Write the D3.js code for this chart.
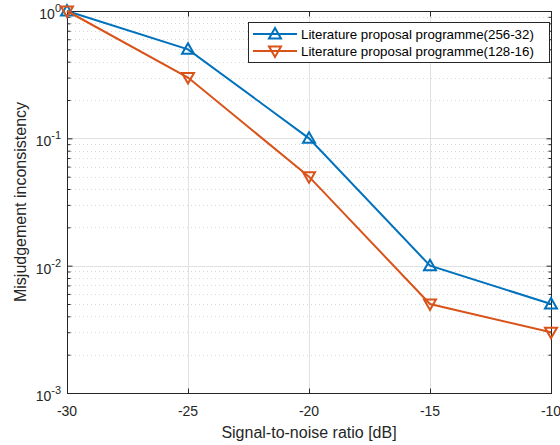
<!DOCTYPE html>
<html><head><meta charset="utf-8">
<script src="https://cdn.jsdelivr.net/npm/d3@7"></script>
<style>body{margin:0;background:#fff}svg{display:block}text{font-family:"Liberation Sans",Arial,sans-serif}</style>
</head><body>
<svg id="c" width="560" height="445"></svg>
<script>
const snr = [-30, -25, -20, -15, -10];
const series1 = [1, 0.5, 0.1, 0.01, 0.005];
const series2 = [1, 0.3, 0.05, 0.005, 0.003];
const seriesNames = ["Literature proposal programme(256-32)", "Literature proposal programme(128-16)"];
const xTicks = [-30, -25, -20, -15, -10];
const yTickExps = [0, -1, -2, -3];

const svg = d3.select("#c");
const L = 67, R = 551, T = 11, B = 393;
const x = d3.scaleLinear().domain([-30, -10]).range([L, R]);
const y = d3.scaleLog().domain([1e-3, 1]).range([B, T]);
const blue = "#0072BD", orange = "#D95319";

// minor grid
const minors = [];
for (let e = -3; e < 0; e++) for (let k = 2; k <= 9; k++) minors.push(k * Math.pow(10, e));
const g = svg.append("g");
g.selectAll(".mg").data(minors).enter().append("line")
  .attr("x1", L).attr("x2", R).attr("y1", d => Math.round(y(d)) + 0.5).attr("y2", d => Math.round(y(d)) + 0.5)
  .attr("stroke", "#d6d6d6").attr("stroke-width", 1).attr("stroke-dasharray", "1,3");
// major grid
g.selectAll(".yg").data(yTickExps.map(e => Math.pow(10, e))).enter().append("line")
  .attr("x1", L).attr("x2", R).attr("y1", d => Math.round(y(d)) + 0.5).attr("y2", d => Math.round(y(d)) + 0.5)
  .attr("stroke", "#e1e1e1");
g.selectAll(".xg").data(xTicks).enter().append("line")
  .attr("y1", T).attr("y2", B).attr("x1", d => Math.round(x(d)) + 0.5).attr("x2", d => Math.round(x(d)) + 0.5)
  .attr("stroke", "#e1e1e1");

// axes via d3
const axB = d3.axisBottom(x).tickValues(xTicks).tickSize(-5).tickFormat(() => "");
const axT = d3.axisTop(x).tickValues(xTicks).tickSize(-5).tickFormat(() => "");
const axLmaj = d3.axisLeft(y).tickValues(yTickExps.map(e => Math.pow(10, e))).tickSize(-5).tickFormat(() => "");
const axLmin = d3.axisLeft(y).tickValues(minors).tickSize(-3).tickFormat(() => "");
const axRmaj = d3.axisRight(y).tickValues(yTickExps.map(e => Math.pow(10, e))).tickSize(-5).tickFormat(() => "");
const axRmin = d3.axisRight(y).tickValues(minors).tickSize(-3).tickFormat(() => "");
[[axB, `translate(0,${B + 0.5})`], [axT, `translate(0,${T + 0.5})`], [axLmaj, `translate(${L + 0.5},0)`],
 [axLmin, `translate(${L + 0.5},0)`], [axRmaj, `translate(${R + 0.5},0)`], [axRmin, `translate(${R + 0.5},0)`]].forEach(([a, t]) => {
  const gg = svg.append("g").attr("transform", t).call(a);
  gg.selectAll("path,line").attr("stroke", "#262626").attr("stroke-width", 1);
  gg.select(".domain").attr("d", null);
});
// box
svg.append("rect").attr("x", L + 0.5).attr("y", T + 0.5).attr("width", R - L).attr("height", B - T)
  .attr("fill", "none").attr("stroke", "#262626").attr("stroke-width", 1);

// x tick labels
svg.selectAll(".xl").data(xTicks).enter().append("text")
  .attr("x", d => x(d)).attr("y", 416).attr("text-anchor", "middle")
  .attr("font-size", 14).attr("fill", "#262626").text(d => d);
// y tick labels
yTickExps.forEach(e => {
  const t = svg.append("text").attr("x", 61).attr("y", y(Math.pow(10, e)) + 8).attr("text-anchor", "end")
    .attr("font-size", 14).attr("fill", "#262626");
  t.append("tspan").text("10");
  t.append("tspan").attr("dy", -7).attr("font-size", 11).text(e);
});
// axis labels
svg.append("text").attr("x", (L + R) / 2).attr("y", 438).attr("text-anchor", "middle")
  .attr("font-size", 16).attr("fill", "#262626").text("Signal-to-noise ratio [dB]");
svg.append("text").attr("transform", `translate(26,${(T + B) / 2}) rotate(-90)`).attr("text-anchor", "middle")
  .attr("font-size", 16).attr("fill", "#262626").text("Misjudgement inconsistency");

// lines
const line = d3.line().x(d => x(d[0])).y(d => y(d[1]));
const tri = (cx, cy, up) => {
  const s = 6;
  return up ? `M${cx},${cy - s}L${cx + s},${cy + s * 0.75}L${cx - s},${cy + s * 0.75}Z`
            : `M${cx},${cy + s}L${cx + s},${cy - s * 0.75}L${cx - s},${cy - s * 0.75}Z`;
};
[[series1, blue, true], [series2, orange, false]].forEach(([s, c, up]) => {
  const pts = snr.map((v, i) => [v, s[i]]);
  svg.append("path").attr("d", line(pts)).attr("fill", "none").attr("stroke", c).attr("stroke-width", 2);
  svg.selectAll(null).data(pts).enter().append("path")
    .attr("d", d => tri(x(d[0]), y(d[1]), up)).attr("fill", "none").attr("stroke", c).attr("stroke-width", 2);
});

// legend
const lg = svg.append("g");
lg.append("rect").attr("x", 248.5).attr("y", 22.5).attr("width", 301).attr("height", 40)
  .attr("fill", "#fff").attr("stroke", "#262626").attr("stroke-width", 1);
seriesNames.forEach((n, i) => {
  const yy = 34 + i * 17;
  const c = i === 0 ? blue : orange;
  lg.append("line").attr("x1", 253).attr("x2", 297).attr("y1", yy).attr("y2", yy).attr("stroke", c).attr("stroke-width", 2);
  lg.append("path").attr("d", tri(275, yy, i === 0)).attr("fill", "none").attr("stroke", c).attr("stroke-width", 2);
  lg.append("text").attr("x", 301).attr("y", yy + 5).attr("font-size", 13.3).attr("fill", "#000").text(n);
});
</script>
</body></html>
